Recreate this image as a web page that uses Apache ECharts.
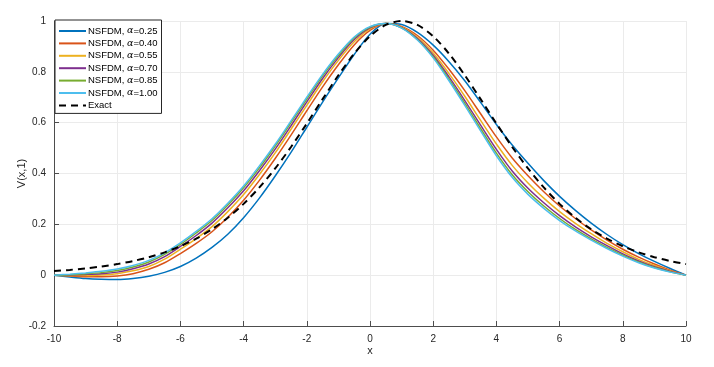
<!DOCTYPE html>
<html>
<head>
<meta charset="utf-8">
<script src="https://cdn.jsdelivr.net/npm/echarts@6/dist/echarts.min.js"></script>
<style>
    html, body { margin: 0; padding: 0; background: #fff; }
    #chart { width: 714px; height: 367px; }
</style>
</head>
<body>
<div id="chart"></div>
<script>
    // x positions shared by all curves
    var xs = [-10, -9.5, -9, -8.5, -8, -7.5, -7, -6.5, -6, -5.5, -5, -4.5, -4, -3.5, -3, -2.5, -2, -1.5, -1, -0.5,
              0, 0.5, 1, 1.5, 2, 2.5, 3, 3.5, 4, 4.5, 5, 5.5, 6, 6.5, 7, 7.5, 8, 8.5, 9, 9.5, 10];

    var alphas = ['0.25', '0.40', '0.55', '0.70', '0.85', '1.00'];

    var v025 = [0, -0.007, -0.013, -0.016, -0.017, -0.013, -0.004, 0.011, 0.034, 0.067, 0.109, 0.161, 0.226, 0.303, 0.390, 0.483, 0.582, 0.681, 0.776, 0.868,
                0.948, 0.990, 0.986, 0.955, 0.905, 0.840, 0.765, 0.680, 0.593, 0.512, 0.440, 0.372, 0.310, 0.255, 0.205, 0.160, 0.120, 0.085, 0.054, 0.026, 0];
    var v040 = [0, -0.003, -0.006, -0.006, -0.003, 0.006, 0.023, 0.049, 0.085, 0.125, 0.171, 0.228, 0.295, 0.373, 0.459, 0.551, 0.647, 0.741, 0.828, 0.906,
                0.963, 0.990, 0.979, 0.943, 0.885, 0.810, 0.726, 0.635, 0.544, 0.461, 0.391, 0.328, 0.272, 0.223, 0.178, 0.138, 0.102, 0.071, 0.044, 0.020, 0];
    var v055 = [0, -0.001, -0.001, 0.001, 0.006, 0.017, 0.034, 0.063, 0.102, 0.144, 0.191, 0.250, 0.317, 0.396, 0.481, 0.574, 0.668, 0.761, 0.845, 0.918,
                0.969, 0.990, 0.976, 0.936, 0.874, 0.793, 0.704, 0.609, 0.516, 0.432, 0.363, 0.303, 0.250, 0.204, 0.163, 0.125, 0.092, 0.062, 0.038, 0.017, 0];
    var v070 = [0, 0.001, 0.003, 0.006, 0.012, 0.025, 0.044, 0.073, 0.113, 0.156, 0.205, 0.265, 0.332, 0.411, 0.496, 0.588, 0.682, 0.774, 0.856, 0.927,
                0.973, 0.990, 0.974, 0.931, 0.865, 0.780, 0.687, 0.590, 0.495, 0.410, 0.342, 0.285, 0.234, 0.190, 0.151, 0.116, 0.084, 0.056, 0.033, 0.015, 0];
    var v085 = [0, 0.002, 0.006, 0.010, 0.018, 0.032, 0.052, 0.082, 0.121, 0.166, 0.215, 0.276, 0.344, 0.422, 0.508, 0.600, 0.693, 0.784, 0.864, 0.933,
                0.976, 0.990, 0.973, 0.927, 0.859, 0.771, 0.676, 0.577, 0.480, 0.395, 0.328, 0.272, 0.223, 0.180, 0.143, 0.109, 0.079, 0.052, 0.030, 0.013, 0];
    var v100 = [0, 0.004, 0.009, 0.015, 0.024, 0.038, 0.058, 0.088, 0.127, 0.172, 0.222, 0.283, 0.351, 0.430, 0.515, 0.607, 0.700, 0.790, 0.870, 0.937,
                0.978, 0.990, 0.972, 0.925, 0.855, 0.765, 0.668, 0.568, 0.470, 0.385, 0.318, 0.263, 0.215, 0.174, 0.138, 0.105, 0.075, 0.049, 0.028, 0.012, 0];
    var exact = [0.0162, 0.0208, 0.0266, 0.0340, 0.0435, 0.0555, 0.0707, 0.0898, 0.1138, 0.1438, 0.1807, 0.2259, 0.2805, 0.3451, 0.4200, 0.5044, 0.5966, 0.6925, 0.7864, 0.8716,
                 0.9400, 0.9845, 1.0000, 0.9845, 0.9400, 0.8716, 0.7864, 0.6925, 0.5966, 0.5044, 0.4200, 0.3451, 0.2805, 0.2259, 0.1807, 0.1438, 0.1138, 0.0898, 0.0707, 0.0555, 0.0435];

    var nsfdm = [v025, v040, v055, v070, v085, v100];
    var colors = ['#0072BD', '#D95319', '#EDB120', '#7E2F8E', '#77AC30', '#4DBEEE'];

    function pairs(vals) {
        return xs.map(function (x, i) { return [x, vals[i]]; });
    }

    var series = nsfdm.map(function (vals, i) {
        return {
            name: 'NSFDM, α=' + alphas[i],
            type: 'line',
            data: pairs(vals),
            smooth: 0.3,
            symbol: 'none',
            showSymbol: false,
            lineStyle: { color: colors[i], width: 1.5 },
            itemStyle: { color: colors[i] }
        };
    });
    series.push({
        name: 'Exact',
        type: 'line',
        data: pairs(exact),
        smooth: 0.3,
        symbol: 'none',
        showSymbol: false,
        z: 3,
        lineStyle: { color: '#000', width: 2, type: [7, 5] },
        itemStyle: { color: '#000' }
    });

    var chart = echarts.init(document.getElementById('chart'));
    chart.setOption({
        animation: false,
        textStyle: { fontFamily: 'Liberation Sans, Arial, sans-serif' },
        grid: { left: 54, right: 28, top: 21, bottom: 41 },
        legend: {
            orient: 'vertical',
            left: 55,
            top: 20,
            itemWidth: 27,
            itemHeight: 10,
            itemGap: 2.4,
            padding: [6, 4, 3, 3],
            backgroundColor: '#fff',
            borderColor: '#262626',
            borderWidth: 1,
            borderRadius: 0,
            itemStyle: { opacity: 0 },
            data: series.map(function (s) { return s.name; }),
            formatter: function (name) {
                var k = name.indexOf('α');
                if (k < 0) return '{t|' + name + '}';
                return '{t|' + name.slice(0, k) + '}{g|α}{t|' + name.slice(k + 1) + '}';
            },
            textStyle: {
                padding: [0, 0, 0, -3],
                rich: {
                    t: { fontSize: 9.5, color: '#000', fontFamily: 'Liberation Sans, Arial, sans-serif' },
                    g: { fontSize: 9.5, color: '#000', fontFamily: 'DejaVu Serif, serif', fontStyle: 'italic' }
                }
            }
        },
        xAxis: {
            type: 'value',
            min: -10,
            max: 10,
            interval: 2,
            name: 'x',
            nameLocation: 'middle',
            nameGap: 19,
            nameMoveOverlap: false,
            nameTextStyle: { fontSize: 11, color: '#262626' },
            axisLine: { onZero: false, lineStyle: { color: '#4d4d4d' } },
            axisTick: { inside: true, length: 5, lineStyle: { color: '#4d4d4d' } },
            axisLabel: { fontSize: 10, color: '#262626', margin: 8 },
            splitLine: { show: true, lineStyle: { color: '#ebebeb' } }
        },
        yAxis: {
            type: 'value',
            min: -0.2,
            max: 1,
            interval: 0.2,
            name: 'V(x,1)',
            nameLocation: 'middle',
            nameGap: 27,
            nameMoveOverlap: false,
            nameTextStyle: { fontSize: 11, color: '#262626' },
            axisLine: { show: true, onZero: false, lineStyle: { color: '#4d4d4d' } },
            axisTick: { show: true, inside: true, length: 5, lineStyle: { color: '#4d4d4d' } },
            axisLabel: {
                fontSize: 10,
                color: '#262626',
                margin: 8,
                formatter: function (v) { return String(Math.round(v * 10) / 10); }
            },
            splitLine: { show: true, lineStyle: { color: '#ebebeb' } }
        },
        series: series
    });
</script>
</body>
</html>
